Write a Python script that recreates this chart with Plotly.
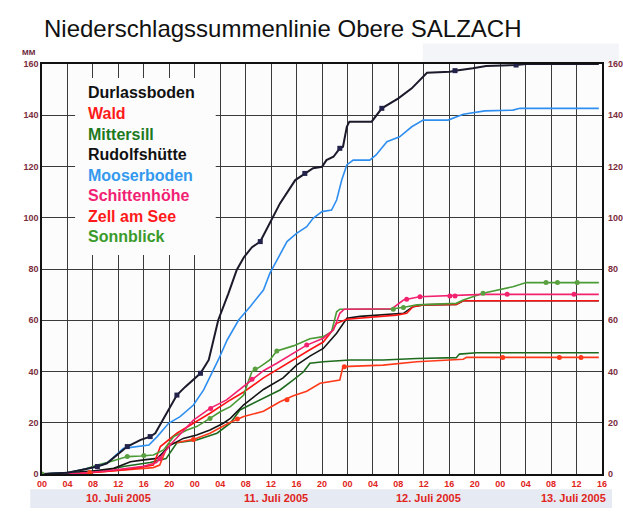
import plotly.graph_objects as go

# ---------------- data (hours since 10 July 2005 00:00, cumulative mm) ----------------
rudolf_h = [0, 4, 6, 8.7, 10.2, 12.3, 13.4, 15.5, 17, 17.8, 19.9, 21.2, 22.5, 24.1, 24.9, 26.2, 27.7,
            29.3, 30.6, 31.7, 33, 34.3, 35.8, 37.4, 39.8, 41.3, 42.6, 44, 44.7, 45.8, 46.8, 47.3, 47.9,
            48.3, 51.8, 53.4, 56, 58.1, 60.5, 64.1, 64.9, 67.7, 69.8, 74.5, 76.1, 87.5]
rudolf_mm = [0, 0.5, 1.5, 2.9, 4.2, 8.7, 10.7, 13.3, 14.6, 15.9, 25, 30.8, 34, 37.3, 39.3, 44.5, 60.1,
             70.5, 79.6, 84.5, 88.5, 90.7, 97.8, 105.6, 114.7, 117.3, 119.3, 119.9, 122.5, 123.8, 127.1,
             127.7, 135.5, 137.5, 137.5, 142.7, 146.6, 150.5, 156.6, 157, 157.4, 158.3, 159.2, 159.6,
             160, 160]
rudolf_mark_h = [8.7, 13.4, 17.0, 21.2, 24.9, 34.3, 41.3, 46.8, 53.4, 64.9, 74.5]
rudolf_mark_mm = [2.9, 10.7, 14.6, 30.8, 39.3, 90.7, 117.3, 127.1, 142.7, 157.4, 159.6]

mooser_h = [0, 4, 8, 10.2, 12.8, 14.9, 16.8, 18.1, 19.9, 21.7, 23.8, 25.4, 27.7, 29.1, 30.9, 32.7,
            34.8, 35.8, 36.9, 38.5, 40, 41.6, 42.6, 44, 45.5, 46.3, 47.1, 47.9, 48.9, 51.5, 52.5,
            54.2, 56.2, 58.1, 59.9, 63.8, 66.2, 69.6, 74, 75.1, 87.5]
mooser_mm = [0, 0.5, 2.5, 4.2, 10, 10.7, 11.3, 14.6, 19.8, 22.4, 26.9, 32.8, 44.5, 52.3, 60.1, 65.3,
             71.8, 78.3, 83.5, 90.7, 93.9, 96.5, 99.8, 102.4, 103, 106.9, 114.7, 120.6, 122.5, 122.5,
             124.5, 129.7, 131.6, 135.5, 138.1, 138.1, 140.4, 141.7, 142, 142.7, 142.7]

sonn_h = [0, 4, 6.6, 8.7, 10.7, 13.4, 15.5, 17.5, 19.1, 20.7, 22.8, 24.3, 26.4, 28, 29.6, 31.7, 32.4,
          33, 34.3, 35.8, 36.9, 39.5, 42.1, 44.2, 45.5, 46.3, 46.8, 54.7, 57.3, 58.9, 65.1, 66.2,
          69.3, 71.9, 74, 76.1, 87.5]
sonn_mm = [0, 0.5, 1.8, 3.5, 4.8, 6.8, 7, 7.4, 9.4, 14.6, 17.2, 18.5, 21.7, 24.3, 26.3, 30.8, 36,
           40, 41.9, 44.5, 48, 50, 52.8, 53.6, 55.5, 63.3, 64.3, 64.3, 65.3, 66, 66.6, 67.9,
           70.5, 71.8, 73.1, 74.7, 74.7]
sonn_mark_h = [0, 13.4, 16, 26.4, 33.5, 36.9, 55.2, 56.8, 69.3, 79.2, 81.0, 84.1]
sonn_mark_mm = [0, 6.8, 7.2, 21.7, 41, 48, 64.3, 65, 70.5, 74.7, 74.7, 74.7]

schitt_h = [0, 6, 10, 13, 16, 18, 20.2, 23.8, 26.4, 29, 31.7, 34.8, 36.9, 39.5, 41.6, 44.2, 45.8,
            46.8, 47.5, 55, 56.8, 59.3, 64.1, 69.3, 87.5]
schitt_mm = [0, 0.3, 1.2, 2.2, 3, 4.5, 11.5, 21, 25.6, 28.9, 34.1, 40.3, 43.2, 47.1, 50.3, 53, 56.2,
             62.7, 64.3, 64.5, 67.9, 69.2, 69.5, 70.1, 70.1]
schitt_mark_h = [18.5, 26.5, 33, 41.6, 57.3, 59.4, 64.1, 64.9, 73.1, 83.6]
schitt_mark_mm = [6, 25.6, 37, 50.3, 68.2, 69.2, 69.5, 69.5, 70.1, 70.1]

wald_h = [0, 6, 10, 14, 17.5, 18.6, 21.2, 23.8, 26.4, 29.6, 31.7, 34.8, 37.4, 40, 42.1, 44.2, 45.3,
          46.3, 47.9, 55.7, 57.3, 58.3, 59.9, 65.1, 66.2, 87.5]
wald_mm = [0, 0.2, 1, 2, 3.5, 10.7, 15.9, 19.8, 23.7, 28.9, 32, 37.5, 41.5, 45.5, 48.5, 51.5, 54.9,
           58.8, 60.4, 62, 62.7, 65.3, 66, 66.2, 67.6, 67.6]

durl_h = [0, 4, 8, 11.3, 13.9, 16, 18.1, 20.2, 22.2, 24.3, 26.4, 28.5, 29.6, 31.7, 34.8, 37.9, 40,
          42.1, 44.2, 46.3, 47.9, 50, 53.6, 56.8, 58.3, 59.9, 65.1, 66.2, 87.5]
durl_mm = [0, 0.5, 1.2, 2.2, 4.8, 5.5, 6.1, 11.3, 13.9, 15.2, 17.2, 19.8, 21.7, 27, 33, 37.5, 42.5,
           46, 49, 54.9, 60.8, 61.5, 62, 62.7, 65.3, 66, 66.2, 67.6, 67.6]

mitt_h = [0, 6, 10, 13, 17, 19.5, 21.2, 24.3, 27.5, 29.6, 31.1, 34.3, 37.4, 39.5, 41.1, 42.1, 44.2,
          48.4, 53.6, 58.9, 65.1, 65.6, 68.3, 87.5]
mitt_mm = [0, 0.5, 1.5, 3, 4.5, 6, 12.2, 13.3, 15.9, 19.8, 25, 28.9, 32.8, 36.7, 39.9, 43.2, 43.8,
           44.5, 44.5, 45.1, 45.4, 46.8, 47.3, 47.3]

zell_h = [0, 6, 10, 14, 17.5, 18.5, 19.8, 22.2, 23.8, 26.4, 29.6, 31.7, 34.8, 37.4, 39.5, 41.6, 43.7,
          46.8, 47.3, 53.6, 58.9, 66.2, 66.7, 87.5]
zell_mm = [0, 0.3, 1, 1.8, 2.5, 3.5, 11.5, 12.8, 13.5, 15.9, 20.2, 22.4, 24.5, 28.2, 30.5, 32.3, 35.4,
           36.7, 41.9, 42.5, 43.8, 44.8, 45.5, 45.5]
zell_mark_h = [7.5, 23.8, 30.7, 38.5, 47.5, 72.4, 81.3, 84.7]
zell_mark_mm = [0.6, 13.5, 21.5, 29, 41.9, 45.5, 45.5, 45.5]

station_names = ["Durlassboden", "Wald", "Mittersill", "Rudolfshütte", "Mooserboden",
                 "Schittenhöhe", "Zell am See", "Sonnblick"]
legend_colors = ["#111111", "#ff1a1a", "#1e7a1e", "#111111", "#3399ee",
                 "#f21f74", "#ff1a1a", "#3a9a2a"]

x_tick_vals = list(range(0, 89, 4))
x_tick_text = ["00", "04", "08", "12", "16", "20"] * 3 + ["00", "04", "08", "12", "16"]
y_tick_vals = list(range(0, 161, 20))
day_labels = ["10. Juli 2005", "11. Juli 2005", "12. Juli 2005", "13. Juli 2005"]

FONT = "Liberation Sans, Arial, sans-serif"
TICK_RED = "#e0241c"
AXIS_MAROON = "#7b2d3d"

fig = go.Figure()

series = [
    ("Mittersill", mitt_h, mitt_mm, "#1e6b1e", 1.6),
    ("Zell am See", zell_h, zell_mm, "#ff3a1a", 1.6),
    ("Durlassboden", durl_h, durl_mm, "#151515", 1.6),
    ("Wald", wald_h, wald_mm, "#ff1414", 1.6),
    ("Sonnblick", sonn_h, sonn_mm, "#4a9a35", 1.6),
    ("Schittenhöhe", schitt_h, schitt_mm, "#f2226e", 1.6),
    ("Mooserboden", mooser_h, mooser_mm, "#2f8ff0", 1.6),
    ("Rudolfshütte", rudolf_h, rudolf_mm, "#1a1a2a", 2.0),
]
for name, xs, ys, col, w in series:
    fig.add_trace(go.Scatter(x=xs, y=ys, mode="lines", name=name,
                             line=dict(color=col, width=w), showlegend=False))

markers = [
    (zell_mark_h, zell_mark_mm, "#ff3a1a", "circle"),
    (sonn_mark_h, sonn_mark_mm, "#5aa040", "circle"),
    (schitt_mark_h, schitt_mark_mm, "#f2226e", "circle"),
    (rudolf_mark_h, rudolf_mark_mm, "#22224a", "square"),
]
for xs, ys, col, sym in markers:
    fig.add_trace(go.Scatter(x=xs, y=ys, mode="markers", showlegend=False, hoverinfo="skip",
                             marker=dict(color=col, size=5, symbol=sym)))

axis_common = dict(showline=True, linecolor="#111111", linewidth=1.5, mirror=True,
                   zeroline=False, ticks="", automargin=False)

fig.update_layout(
    width=623, height=512, autosize=False,
    margin=dict(l=42, r=21, t=64, b=38),
    paper_bgcolor="white", plot_bgcolor="#fcfcfd",
    font=dict(family=FONT),
    xaxis=dict(range=[0, 88], tickvals=x_tick_vals, ticktext=x_tick_text,
               showgrid=True, gridcolor="#3a3a3a", gridwidth=1,
               tickfont=dict(family=FONT, size=9, color=TICK_RED, weight="bold"),
               **axis_common),
    yaxis=dict(range=[0, 160], tickvals=y_tick_vals,
               showgrid=True, gridcolor="#3a3a3a", gridwidth=1,
               tickfont=dict(family=FONT, size=9, color=AXIS_MAROON, weight="bold"),
               ticklabelstandoff=0, **axis_common),
)

# right-hand axis labels
for v in y_tick_vals:
    fig.add_annotation(text=str(v), xref="paper", yref="y", x=(606 - 42) / 560, y=v,
                       xanchor="left", yanchor="middle", showarrow=False,
                       font=dict(family=FONT, size=9, color=AXIS_MAROON, weight="bold"))

# bottom date band
fig.add_shape(type="rect", xref="paper", yref="paper", x0=-0.021, x1=1.018, y0=-0.083, y1=-0.037,
              fillcolor="#e6eaf3", line=dict(width=0), layer="below")
# very faint shaded strip at the top right
fig.add_shape(type="rect", xref="paper", yref="paper", x0=0.68, x1=1.03, y0=1.0, y1=1.05,
              fillcolor="#f4f5f9", line=dict(width=0), layer="below")
# white box behind the legend text (covers the grid there)
fig.add_shape(type="rect", xref="x", yref="y", x0=5.2, x1=27.3, y0=85.5, y1=154.5,
              fillcolor="#fcfcfd", line=dict(width=0), layer="above")

# title
fig.add_annotation(text="Niederschlagssummenlinie Obere SALZACH", xref="paper", yref="paper",
                   x=0.0, y=1.087, xanchor="left", yanchor="middle", showarrow=False,
                   font=dict(family=FONT, size=24, color="#111111"))
# unit label
fig.add_annotation(text="MM", xref="paper", yref="paper", x=-0.023, y=1.027,
                   xanchor="center", yanchor="middle", showarrow=False,
                   font=dict(family=FONT, size=8, color="#6b1f3a", weight="bold"))

# legend as coloured text
legend_y_px = [93, 113.5, 134, 154.5, 175, 195.5, 216, 236.5]
for name, col, ypx in zip(station_names, legend_colors, legend_y_px):
    fig.add_annotation(text=name, xref="paper", yref="paper", x=(86 - 42) / 560,
                       y=(474 - ypx) / 410, xanchor="left", yanchor="middle", showarrow=False,
                       font=dict(family=FONT, size=16, color=col, weight="bold"))

# day labels
day_x_px = [118, 276, 428, 573]
for lab, xpx in zip(day_labels, day_x_px):
    fig.add_annotation(text=lab, xref="paper", yref="paper", x=(xpx - 42) / 560,
                       y=(474 - 498) / 410, xanchor="center", yanchor="middle", showarrow=False,
                       font=dict(family=FONT, size=11, color=TICK_RED, weight="bold"))

fig.write_html("out.html", config={"responsive": False, "displayModeBar": False},
               post_script="document.body.style.margin='0px';"
                           "document.documentElement.style.overflow='hidden';")
